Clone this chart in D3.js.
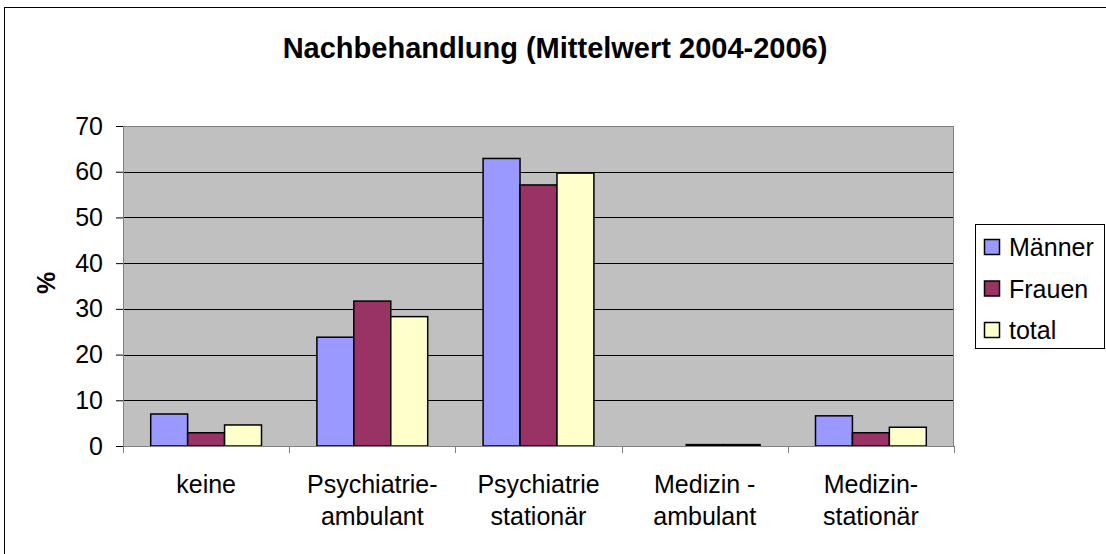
<!DOCTYPE html>
<html>
<head>
<meta charset="utf-8">
<script src="https://cdn.jsdelivr.net/npm/d3@7"></script>
<style>
  body { margin: 0; background: #fff; }
  svg { display: block; font-family: "Liberation Sans", Arial, sans-serif; }
</style>
</head>
<body>
<div class="chart"></div>
<script>
var CATEGORIES = [["keine"], ["Psychiatrie-", "ambulant"], ["Psychiatrie", "stationär"], ["Medizin -", "ambulant"], ["Medizin-", "stationär"]];
var SERIES = ["Männer", "Frauen", "total"];
var MAENNER = [7.0, 23.8, 62.9, 0, 6.6];
var FRAUEN = [2.9, 31.7, 57.1, 0.3, 2.9];
var TOTAL = [4.6, 28.3, 59.7, 0.3, 4.1];
var Y_TICKS = [0, 10, 20, 30, 40, 50, 60, 70];
var TITLE = "Nachbehandlung (Mittelwert 2004-2006)";
var Y_LABEL = "%";

drawBarChart('.chart');

function drawBarChart(element) {
  var MARGIN = { top: 126, left: 123 };
  var WIDTH = 831;
  var HEIGHT = 320;
  var COLORS = ['#9999ff', '#993366', '#ffffcc'];
  var values = [MAENNER, FRAUEN, TOTAL];

  var svg = d3.select(element)
    .append("svg")
      .attr("width", 1106)
      .attr("height", 554);

  // outer chart border (right and bottom run off the picture)
  svg.append("rect")
    .attr("x", 4.5).attr("y", 7.5)
    .attr("width", 1110).attr("height", 560)
    .attr("fill", "#fff")
    .attr("stroke", "#000")
    .attr("stroke-width", 1);

  svg.append("text")
    .attr("x", 555).attr("y", 58)
    .attr("text-anchor", "middle")
    .attr("font-size", "29px")
    .attr("font-weight", "bold")
    .text(TITLE);

  var g = svg.append("g")
    .attr("transform", "translate(" + MARGIN.left + "," + MARGIN.top + ")");

  var keys = CATEGORIES.map(function (c) { return c.join(" "); });
  var x0 = d3.scaleBand().domain(keys).range([0, WIDTH]);
  var bw = x0.bandwidth();
  var x1 = d3.scaleBand().domain(SERIES).range([bw / 6, bw * 5 / 6]);
  var y = d3.scaleLinear().domain([0, 70]).range([HEIGHT, 0]);

  // plot background
  g.append("rect")
    .attr("width", WIDTH).attr("height", HEIGHT)
    .attr("fill", "#c0c0c0");

  // gridlines
  g.selectAll(".grid")
    .data(Y_TICKS.filter(function (t) { return t > 0 && t < 70; }))
    .enter().append("line")
      .attr("x1", 0).attr("x2", WIDTH)
      .attr("y1", function (d) { return Math.round(y(d)) + 0.5; })
      .attr("y2", function (d) { return Math.round(y(d)) + 0.5; })
      .attr("stroke", "#000")
      .attr("stroke-width", 1);

  // plot border
  g.append("rect")
    .attr("x", 0.5).attr("y", 0.5)
    .attr("width", WIDTH - 1).attr("height", HEIGHT)
    .attr("fill", "none")
    .attr("stroke", "#808080")
    .attr("stroke-width", 1);

  // bars
  var rows = keys.map(function (k, i) {
    return { key: k, vals: SERIES.map(function (s, j) { return { s: s, j: j, v: values[j][i] }; }) };
  });

  g.selectAll(".cat")
    .data(rows)
    .enter().append("g")
      .attr("transform", function (d) { return "translate(" + x0(d.key) + ",0)"; })
    .selectAll("rect")
    .data(function (d) { return d.vals; })
    .enter().append("rect")
      .attr("x", function (d) { return x1(d.s); })
      .attr("y", function (d) { return y(d.v); })
      .attr("width", x1.bandwidth())
      .attr("height", function (d) { return HEIGHT - y(d.v); })
      .attr("fill", function (d) { return COLORS[d.j]; })
      .attr("stroke", "#000")
      .attr("stroke-width", function (d) { return d.v > 0 ? 1.5 : 0; });

  // Y axis
  var yAxis = g.append("g")
    .call(d3.axisLeft(y).tickValues(Y_TICKS).tickSize(7).tickPadding(13));
  yAxis.select(".domain").attr("stroke", "#808080");
  yAxis.selectAll(".tick line").attr("stroke", "#000");
  yAxis.selectAll("text")
    .attr("font-size", "25px")
    .attr("font-family", "Liberation Sans, Arial, sans-serif")
    .attr("fill", "#000");

  // X axis
  var xAxis = g.append("g")
    .attr("transform", "translate(0," + HEIGHT + ")");
  xAxis.append("line")
    .attr("x1", 0).attr("x2", WIDTH)
    .attr("y1", 0.5).attr("y2", 0.5)
    .attr("stroke", "#808080");
  xAxis.selectAll(".xtick")
    .data(d3.range(keys.length + 1))
    .enter().append("line")
      .attr("x1", function (i) { return Math.round(i * bw) + 0.5; })
      .attr("x2", function (i) { return Math.round(i * bw) + 0.5; })
      .attr("y1", 0).attr("y2", 7)
      .attr("stroke", "#808080");

  var labels = xAxis.selectAll(".xlabel")
    .data(CATEGORIES)
    .enter().append("text")
      .attr("text-anchor", "middle")
      .attr("font-size", "25px")
      .attr("fill", "#000")
      .attr("transform", function (d, i) { return "translate(" + (x0(keys[i]) + bw / 2) + ",47)"; });
  labels.selectAll("tspan")
    .data(function (d) { return d; })
    .enter().append("tspan")
      .attr("x", 0)
      .attr("dy", function (d, i) { return i === 0 ? 0 : 32; })
      .text(function (d) { return d; });

  // Y label
  svg.append("text")
    .attr("transform", "translate(55,283) rotate(-90)")
    .attr("text-anchor", "middle")
    .attr("font-size", "25px")
    .attr("font-weight", "bold")
    .text(Y_LABEL);

  // legend
  var legend = svg.append("g").attr("transform", "translate(975,224)");
  legend.append("rect")
    .attr("x", 0.5).attr("y", 0.5)
    .attr("width", 129).attr("height", 124)
    .attr("fill", "#fff")
    .attr("stroke", "#000");
  var items = legend.selectAll(".item")
    .data(SERIES)
    .enter().append("g")
      .attr("transform", function (d, i) { return "translate(0," + (23 + i * 41.5) + ")"; });
  items.append("rect")
    .attr("x", 9.5).attr("y", -7.5)
    .attr("width", 15).attr("height", 15)
    .attr("fill", function (d, i) { return COLORS[i]; })
    .attr("stroke", "#000")
    .attr("stroke-width", 1.5);
  items.append("text")
    .attr("x", 34).attr("y", 9)
    .attr("font-size", "25px")
    .text(function (d) { return d; });
}
</script>
</body>
</html>
